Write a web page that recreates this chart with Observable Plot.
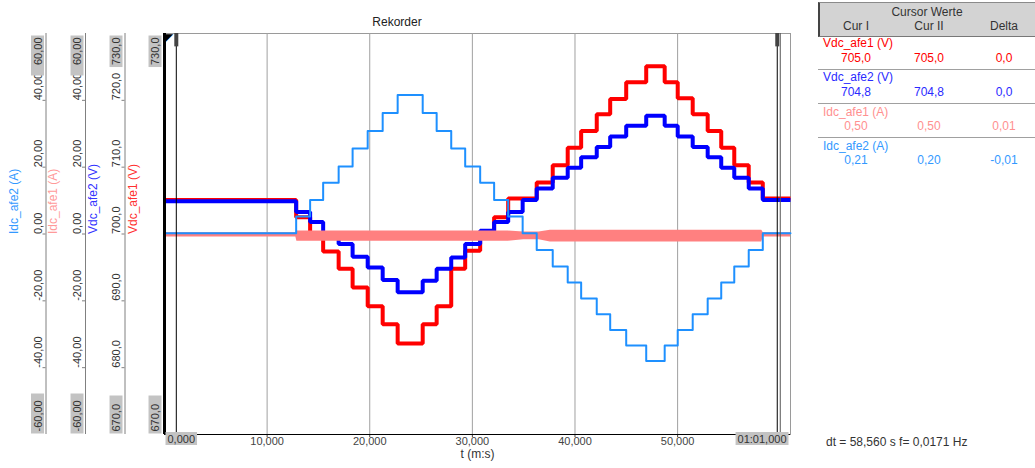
<!DOCTYPE html>
<html><head><meta charset="utf-8">
<script src="https://cdn.jsdelivr.net/npm/d3@7"></script>
<script src="https://cdn.jsdelivr.net/npm/@observablehq/plot@0.6"></script>
<style>
body{margin:0;background:#fff;font-family:"Liberation Sans",Arial,sans-serif;}
#wrap{position:relative;width:1035px;height:468px;overflow:hidden;background:#fff;}
#wrap svg{position:absolute;left:0;top:0;}
.ov{position:absolute;white-space:nowrap;font-size:12px;line-height:14px;}
</style></head><body><div id="wrap"></div>
<script>
// ---------- data ----------
const timeVdc1 = [0, 12.83, 14.19, 15.46, 16.97, 18.33, 19.80, 21.26, 22.72, 25.16, 26.52, 27.94, 29.30, 30.76, 32.12, 33.49, 36.27, 37.83, 39.29, 40.60, 42.12, 43.43, 44.99, 46.94, 48.74, 50.01, 51.47, 52.93, 54.25, 55.52, 56.93, 58.30, 61];
const valVdc1  = [705.1, 702.5, 700.0, 697.4, 694.8, 692.0, 689.2, 686.5, 683.6, 686.5, 689.2, 694.8, 697.5, 700.0, 702.5, 705.3, 707.7, 710.3, 712.9, 715.4, 717.9, 720.2, 722.7, 725.1, 722.7, 720.3, 717.9, 715.4, 712.9, 710.3, 707.7, 705.3, 705.3];

const timeVdc2 = [0, 12.83, 14.19, 15.46, 16.97, 18.33, 19.80, 21.26, 22.72, 25.16, 26.52, 27.94, 29.30, 30.76, 32.12, 33.49, 34.90, 36.27, 37.83, 39.29, 40.60, 42.12, 43.43, 44.99, 46.94, 48.74, 50.01, 51.47, 52.93, 54.25, 55.52, 56.93, 58.30, 61];
const valVdc2  = [704.9, 703.3, 701.8, 700.1, 698.5, 696.6, 695.0, 693.1, 691.3, 693.0, 694.8, 696.5, 698.5, 700.5, 701.8, 703.3, 705.1, 706.8, 708.4, 709.9, 711.5, 713.0, 714.6, 716.2, 717.7, 716.2, 714.6, 713.0, 711.5, 709.9, 708.4, 706.8, 705.1, 705.1];

const timeIdc2 = [0, 12.83, 14.19, 15.46, 16.97, 18.33, 19.80, 21.26, 22.72, 25.16, 26.52, 27.94, 29.30, 30.76, 32.12, 33.49, 34.90, 36.27, 37.83, 39.29, 40.60, 42.12, 43.43, 44.99, 46.94, 48.74, 50.01, 51.47, 52.93, 54.25, 55.52, 56.93, 58.30, 61];
const valIdc2  = [0.2, 5.2, 10.2, 15.3, 20.2, 25.6, 30.8, 36.2, 41.6, 36.2, 30.8, 25.6, 20.2, 15.3, 10.2, 5.2, 0.2, -4.8, -9.7, -14.5, -19.3, -24.0, -28.7, -33.4, -38.0, -33.4, -28.7, -24.0, -19.3, -14.5, -9.7, -4.8, 0.2, 0.2];

// Idc_afe1: noisy band, upper / lower envelope (A)
const timeIdc1 = [0, 12.8, 12.9, 33.5, 35.0, 36.5, 37.6, 58.2, 58.35, 61];
const idc1Hi   = [0.4, 0.4, 0.9, 0.9, 0.6, 0.6, 1.1, 1.1, 0.4, 0.4];
const idc1Lo   = [-0.9, -0.9, -2.2, -2.2, -1.7, -1.7, -2.4, -2.4, -0.9, -0.9];

const voltTicks = [670, 680, 690, 700, 710, 720, 730];
const currTicks = [-60, -40, -20, 0, 20, 40, 60];
const timeTicks = [10, 20, 30, 40, 50];
const timeEnds  = [0, 61];
const cursorT   = [1.15, 59.71];

const seriesNames  = ["Idc_afe2 (A)", "Idc_afe1 (A)", "Vdc_afe2 (V)", "Vdc_afe1 (V)"];
const cursorRows   = ["Vdc_afe1 (V)", "Vdc_afe2 (V)", "Idc_afe1 (A)", "Idc_afe2 (A)"];
const curI         = ["705,0", "704,8", "0,50", "0,21"];
const curII        = ["705,0", "704,8", "0,50", "0,20"];
const curDelta     = ["0,0", "0,0", "0,01", "-0,01"];
const footText     = "dt = 58,560 s  f= 0,0171 Hz";

// ---------- helpers ----------
const fmtV = d => d.toFixed(1).replace(".", ",");
const fmtA = d => d.toFixed(2).replace(".", ",");
const fmtT = d => d === 61 ? "01:01,000" : d.toFixed(3).replace(".", ",");
const aToV = a => 700 + a / 2;   // current axis -60..60 shares the 670..730 span
const rows = (t, v) => t.map((x, i) => ({t: x, v: v[i]}));

const red = rows(timeVdc1, valVdc1);
const blue = rows(timeVdc2, valVdc2);
const lblue = rows(timeIdc2, valIdc2);
const pink = timeIdc1.map((t, i) => ({t, hi: aToV(idc1Hi[i]), lo: aToV(idc1Lo[i])}));

const C = {red: "#ff0000", blue: "#0000ff", pink: "#ff8080", lblue: "#1e90ff"};
const titleColors = ["#3399ff", "#ff9a9a", "#3333ff", "#ff3030"];

// axis layout (pixel offsets from the plot's left edge)
const axisCfg = [
  {line: -118.5, lab: -126.5, title: -150, ticks: currTicks, fmt: fmtA, toV: aToV, full: true},
  {line: -79,    lab: -87,    title: -111, ticks: currTicks, fmt: fmtA, toV: aToV, full: true},
  {line: -39.5,  lab: -48,    title: -71.5, ticks: voltTicks, fmt: fmtV, toV: d => d, full: true},
  {line: 0,      lab: -9,     title: -31,  ticks: voltTicks, fmt: fmtV, toV: d => d, full: false}
];

const marks = [
  Plot.frame({stroke: "#9a9a9a"}),
  Plot.gridX({ticks: timeTicks, stroke: "#a0a0a0", strokeOpacity: 1}),
  Plot.axisX({ticks: timeTicks, tickFormat: fmtT, tickSize: 3, tickPadding: 0, fontSize: 11, color: "#444", label: null}),
  Plot.line(red, {x: "t", y: "v", curve: "step-after", stroke: C.red, strokeWidth: 4, strokeLinejoin: "miter", strokeLinecap: "butt"}),
  Plot.line(blue, {x: "t", y: "v", curve: "step-after", stroke: C.blue, strokeWidth: 4, strokeLinejoin: "miter", strokeLinecap: "butt"}),
  Plot.areaY(pink, {x: "t", y1: "lo", y2: "hi", fill: C.pink}),
  Plot.line(lblue, {x: "t", y: d => aToV(d.v), curve: "step-after", stroke: C.lblue, strokeWidth: 2}),
  Plot.ruleX([0], {x: d => d, stroke: "#000", strokeWidth: 3}),
  Plot.ruleY([670], {y: d => d, stroke: "#000"}),
  Plot.ruleX(cursorT, {x: d => d, stroke: "#000"}),
  Plot.ruleX([cursorT[1]], {x: d => d, dx: 3, stroke: "#555"}),
  Plot.ruleX(cursorT, {x: d => d, y1: 730, y2: 728, stroke: "#444", strokeWidth: 4}),
  Plot.text([0], {x: d => d, text: () => "◤", frameAnchor: "top", textAnchor: "start", lineAnchor: "top", dx: -1, fontSize: 12, fill: "#000"}),
  Plot.text([timeEnds[0]], {x: d => d, text: fmtT, frameAnchor: "bottom", textAnchor: "start", dx: 3, dy: 8, fontSize: 11, fill: "#333"}),
  Plot.text([timeEnds[1]], {x: d => d, text: fmtT, frameAnchor: "bottom", textAnchor: "end", dx: -4, dy: 8, fontSize: 11, fill: "#333"}),
  Plot.text(["t (m:s)"], {frameAnchor: "bottom", dy: 23, fontSize: 12, fill: "#333"})
];

axisCfg.forEach((a, i) => {
  const inner = a.ticks.slice(1, -1);
  if (a.full) {
    marks.push(Plot.ruleX([0], {x: d => d, dx: a.line, stroke: "#808080"}));
    marks.push(Plot.axisY({ticks: inner.map(a.toV), tickSize: 3, tickFormat: () => "", dx: a.line, stroke: "#808080", label: null}));
    marks.push(Plot.text(inner, {y: d => a.toV(d), text: a.fmt, frameAnchor: "left", dx: a.lab, rotate: -90, fontSize: 11, fill: "#333"}));
  }
  marks.push(Plot.text([a.ticks[a.ticks.length - 1]], {y: d => a.toV(d), text: a.fmt, frameAnchor: "left", dx: a.lab, dy: 4, rotate: -90, textAnchor: "end", fontSize: 11, fill: "#333"}));
  marks.push(Plot.text([a.ticks[0]], {y: d => a.toV(d), text: a.fmt, frameAnchor: "left", dx: a.lab, dy: -3, rotate: -90, textAnchor: "start", fontSize: 11, fill: "#333"}));
  marks.push(Plot.text([seriesNames[i]], {frameAnchor: "left", dx: a.title, rotate: -90, fontSize: 12, fill: titleColors[i]}));
});

const svg = Plot.plot({
  width: 1035, height: 468,
  marginLeft: 164, marginRight: 245, marginTop: 33, marginBottom: 34,
  style: {fontFamily: '"Liberation Sans", Arial, sans-serif', background: "#fff"},
  x: {domain: [0, 61]},
  y: {domain: [670, 730]},
  marks
});
const wrap = document.getElementById("wrap");
wrap.appendChild(svg);

// gray boxes behind the end labels (current-axis boxes are longer, as in the reference)
const endLabels = new Map([["60,00", 40], ["-60,00", 40], ["730,0", 28], ["670,0", 38], ["0,000", 0], ["01:01,000", 0]]);
svg.querySelectorAll("text").forEach(t => {
  const txt = t.textContent;
  if (!endLabels.has(txt)) return;
  const minLen = endLabels.get(txt);
  const b = t.getBBox();
  const anchor = getComputedStyle(t).textAnchor;
  let x = b.x - 2, w = b.width + 4;
  if (w < minLen) {
    if (anchor === "end") { x = b.x + b.width + 2 - minLen; }
    w = minLen;
  }
  const r = document.createElementNS("http://www.w3.org/2000/svg", "rect");
  r.setAttribute("x", x); r.setAttribute("y", b.y - 0.5);
  r.setAttribute("width", w); r.setAttribute("height", b.height + 1);
  r.setAttribute("fill", "#c3c3c3");
  if (t.getAttribute("transform")) r.setAttribute("transform", t.getAttribute("transform"));
  t.parentNode.insertBefore(r, t);
});

// ---------- overlays: title, cursor table, footer ----------
function ov(txt, css) {
  const d = document.createElement("div");
  d.className = "ov"; d.textContent = txt;
  Object.assign(d.style, css);
  wrap.appendChild(d);
  return d;
}
ov("Rekorder", {left: "0px", width: "794px", textAlign: "center", top: "15px", color: "#222"});

const hdr = document.createElement("div");
Object.assign(hdr.style, {position: "absolute", left: "818px", top: "2px", width: "216px", height: "33px",
  background: "#d3d3d3", borderTop: "1px solid #8a8a8a", borderBottom: "1px solid #777", borderLeft: "2px solid #444"});
wrap.appendChild(hdr);
ov("Cursor Werte", {left: "818px", width: "218px", textAlign: "center", top: "5px", color: "#333"});
const colCx = [856, 929, 1004];
["Cur I", "Cur II", "Delta"].forEach((h, j) => ov(h, {left: (colCx[j] - 40) + "px", width: "80px", textAlign: "center", top: "19px", color: "#333"}));
const rowColors = [C.red, "#2a2aff", "#ff9090", "#3399ff"];
cursorRows.forEach((name, i) => {
  ov(name, {left: "823px", top: (36 + 34.3 * i) + "px", color: rowColors[i]});
  [curI[i], curII[i], curDelta[i]].forEach((v, j) =>
    ov(v, {left: (colCx[j] - 40) + "px", width: "80px", textAlign: "center", top: (51 + 34 * i) + "px", color: rowColors[i]}));
  if (i < 3) {
    const s = document.createElement("div");
    Object.assign(s.style, {position: "absolute", left: "818px", width: "217px", top: (69 + 34 * i) + "px", height: "1px", background: "#a0a0a0"});
    wrap.appendChild(s);
  }
});
ov(footText, {left: "826px", top: "435px", color: "#333"});
</script>
</body></html>
